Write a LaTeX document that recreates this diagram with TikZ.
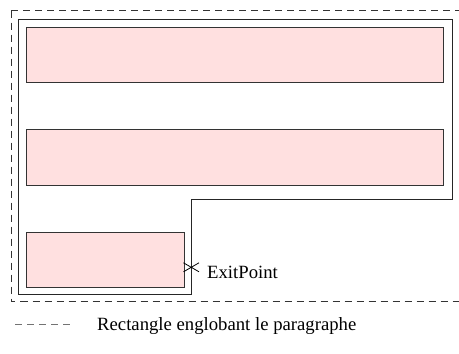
\documentclass[tikz,border=0pt]{standalone}
\usepackage{fontspec}
\setmainfont{Liberation Serif}
\begin{document}
\begin{tikzpicture}[x=1pt,y=-1pt,
  pinkbox/.style={draw=black!80,fill=pinkfill,line width=0.8pt,inner sep=0pt,minimum width=#1},
  outline/.style={draw=black!85,line width=0.9pt},
  encl/.style={draw=black!80,line width=0.9pt,dash pattern=on 7pt off 5pt},
  lbl/.style={font=\fontsize{18.7}{22}\selectfont,inner sep=0pt}]
\definecolor{pinkfill}{HTML}{FFE0E0}
\useasboundingbox (0,0) rectangle (459,354);
\begin{scope}
\clip (0,0) rectangle (459,354);
\draw[encl] (11,10.5) -- (470,10.5) (11,10.5) -- (11,301) -- (470,301);
\end{scope}
\draw[outline] (18,19) -- (452,19) -- (452,199) -- (191,199) -- (191,294) -- (18,294) -- cycle;
\node[pinkbox=417pt,minimum height=55.5pt,anchor=north west] (p1) at (26,26.5) {};
\node[pinkbox=417pt,minimum height=55.5pt,anchor=north west] (p2) at (26,129) {};
\node[pinkbox=158pt,minimum height=55.5pt,anchor=north west] (p3) at (26,231.5) {};
\coordinate (exit) at (191,267.3);
\draw[line width=0.8pt] ([shift={(-7.5,-4.5)}]exit) -- ([shift={(8,4.5)}]exit)
  ([shift={(-7.5,4.5)}]exit) -- ([shift={(8,-4.5)}]exit);
\node[lbl,anchor=base west] (exitlbl) at (207,278.7) {ExitPoint};
\coordinate (la) at (15,324);
\coordinate (lb) at (74,324);
\draw[encl,draw=black!55] (la) -- (lb);
\node[lbl,anchor=base west] (legend) at (97,330) {Rectangle englobant le paragraphe};
\end{tikzpicture}
\end{document}
